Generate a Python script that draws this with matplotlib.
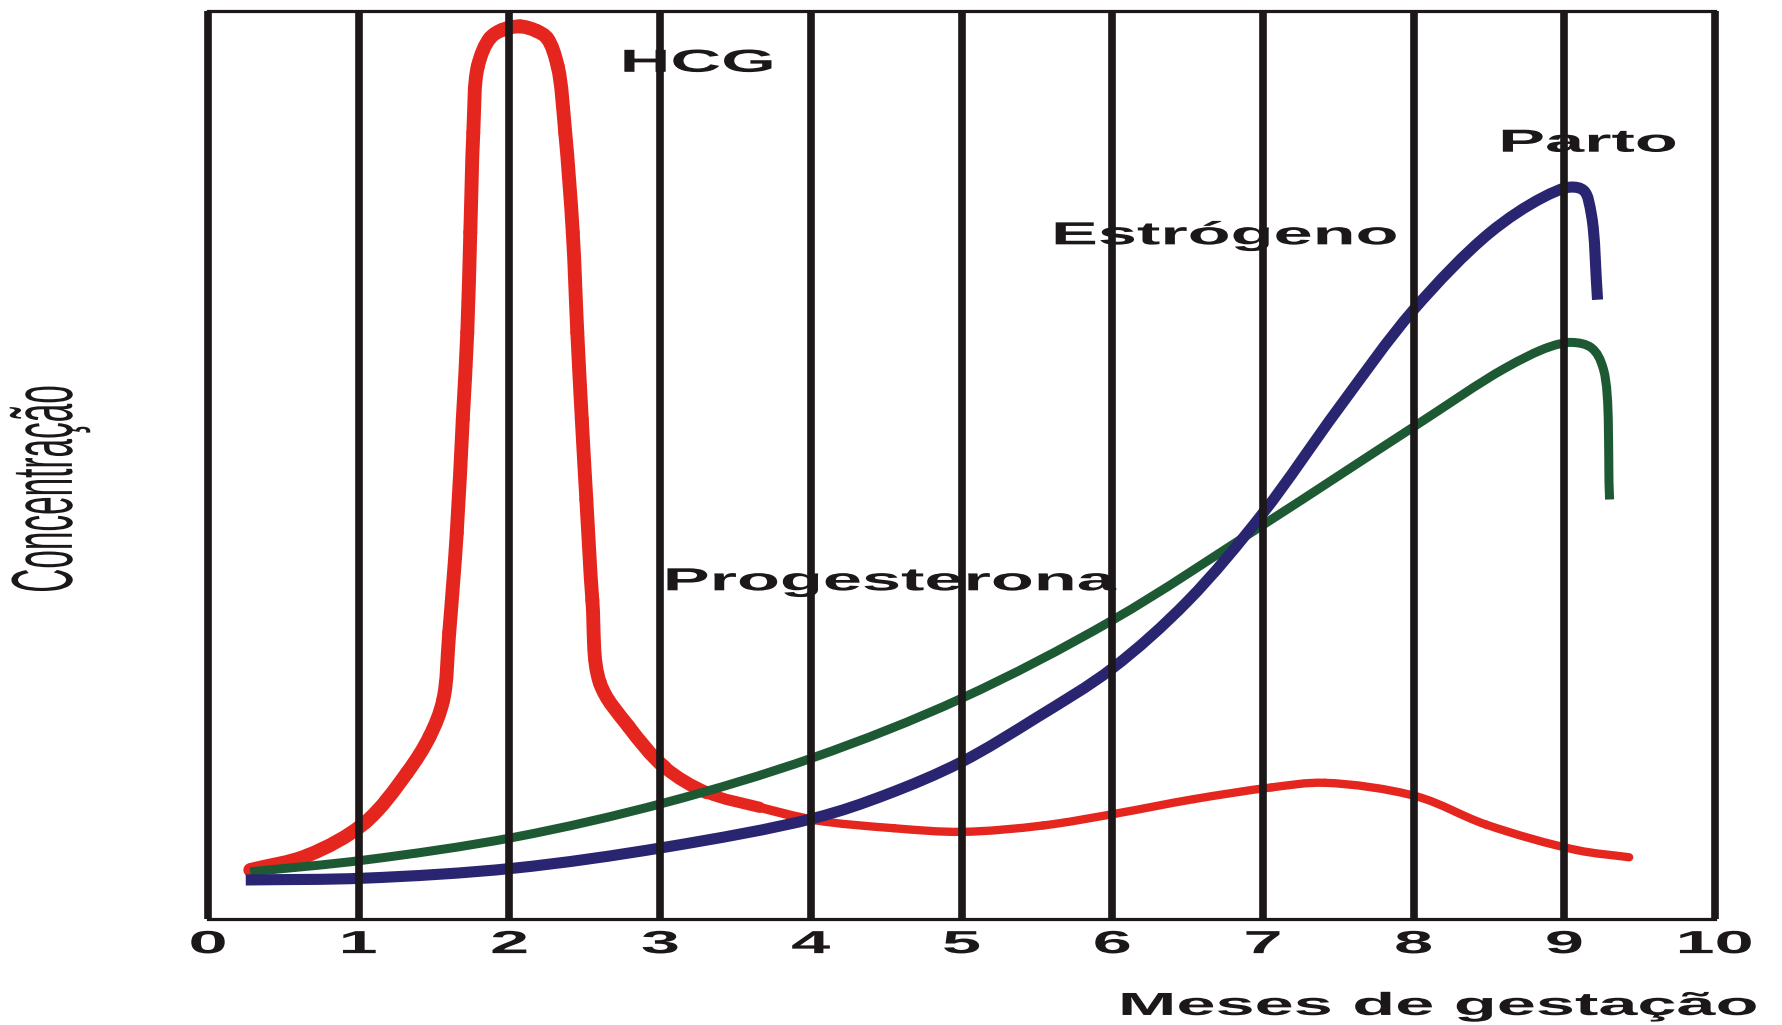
import matplotlib
matplotlib.use('Agg')
import matplotlib.pyplot as plt
import matplotlib.patheffects as pe
from matplotlib.transforms import Affine2D
from matplotlib.path import Path
from matplotlib.patches import PathPatch
import numpy as np

# meses de gestação (linhas verticais / rótulos do eixo x)
meses = [0, 1, 2, 3, 4, 5, 6, 7, 8, 9, 10]
rotulos_meses = ['0', '1', '2', '3', '4', '5', '6', '7', '8', '9', '10']

# concentração relativa (0 = eixo, 100 = topo do quadro)
hcg_x = [0.28, 0.66, 1.04, 1.32, 1.47, 1.56, 1.60, 1.65, 1.69, 1.72, 1.74, 1.76,
         1.79, 1.87, 1.95, 2.07, 2.18, 2.25, 2.32, 2.37, 2.42, 2.45, 2.48, 2.51,
         2.55, 2.60, 2.79, 3.03, 3.31, 3.66, 4.02, 4.55, 5.00, 5.54, 6.02, 6.54,
         7.06, 7.41, 8.02, 8.48, 9.08, 9.43]
hcg_y = [5.4, 7.0, 10.6, 16.1, 20.1, 24.1, 31.5, 42.5, 55.0, 64.6, 75.6, 86.6,
         93.9, 97.0, 97.9, 98.3, 97.8, 97.0, 93.9, 86.6, 75.6, 64.6, 55.0, 46.2,
         35.1, 26.0, 21.2, 16.7, 13.9, 12.3, 10.9, 10.0, 9.6, 10.3, 11.6, 13.2,
         14.5, 15.0, 13.5, 10.4, 7.6, 6.8]

prog_x = [0.28, 1.04, 2.03, 3.03, 4.02, 5.00, 6.00, 7.00, 8.00, 8.60, 8.90,
          9.05, 9.18, 9.26, 9.30]
prog_y = [5.2, 6.5, 9.0, 12.8, 17.8, 24.3, 32.9, 43.4, 54.2, 60.6, 63.0,
          63.5, 62.9, 60.5, 46.2]

estr_x = [0.25, 1.04, 2.03, 3.03, 4.02, 4.50, 5.00, 5.50, 6.00, 6.50, 7.00,
          7.50, 8.00, 8.50, 8.85, 9.04, 9.13, 9.18, 9.22]
estr_y = [4.3, 4.5, 5.6, 7.9, 11.1, 13.7, 17.3, 22.2, 27.6, 35.0, 44.7,
          56.2, 67.1, 75.5, 79.4, 80.6, 80.2, 77.5, 68.2]

preto = '#1c1718'
vermelho = '#e5261e'
azul = '#2a2570'
verde = '#1d5a34'


# o original é uma digitalização esticada na horizontal: o texto sai largo
class Esticar(pe.AbstractPathEffect):
    def __init__(self, sx=1.0, sy=1.0):
        super().__init__()
        self.sx = sx
        self.sy = sy

    def draw_path(self, renderer, gc, tpath, affine, rgbFace=None):
        ext = tpath.get_extents()
        cx = (ext.x0 + ext.x1) / 2
        cy = (ext.y0 + ext.y1) / 2
        t = Affine2D().translate(-cx, -cy).scale(self.sx, self.sy).translate(cx, cy)
        renderer.draw_path(gc, tpath, t + affine, rgbFace)


# curva suave (Catmull-Rom centrípeta -> Bézier) passando pelos pontos lidos
def trechos_bezier(xs, ys, ex=150.7, ey=9.08):
    p = np.column_stack([np.asarray(xs) * ex, np.asarray(ys) * ey])
    p = np.vstack([2 * p[0] - p[1], p, 2 * p[-1] - p[-2]])
    trechos = []
    for i in range(1, len(p) - 2):
        p0, p1, p2, p3 = p[i - 1], p[i], p[i + 1], p[i + 2]
        d1 = max(np.hypot(*(p1 - p0)), 1e-6) ** 0.5
        d2 = max(np.hypot(*(p2 - p1)), 1e-6) ** 0.5
        d3 = max(np.hypot(*(p3 - p2)), 1e-6) ** 0.5
        b1 = (d1**2 * p2 - d2**2 * p0 + (2 * d1**2 + 3 * d1 * d2 + d2**2) * p1) / (3 * d1 * (d1 + d2))
        b2 = (d3**2 * p1 - d2**2 * p3 + (2 * d3**2 + 3 * d3 * d2 + d2**2) * p2) / (3 * d3 * (d3 + d2))
        trechos.append(np.array([p1, b1, b2, p2]) / [ex, ey])
    return trechos


def caminho(trechos):
    verts = [trechos[0][0]]
    for t in trechos:
        verts.extend(t[1:])
    codes = [Path.MOVETO] + [Path.CURVE4] * (3 * len(trechos))
    return Path(verts, codes)


plt.rcParams['font.family'] = ['Liberation Sans', 'DejaVu Sans']

fig = plt.figure(figsize=(17.83, 10.25), dpi=100)
ax = fig.add_axes([0.1167, 0.1034, 0.8452, 0.8859])
ax.set_xlim(0, 10)
ax.set_ylim(0, 100)

# HCG: traço grosso no pico, mais fino depois
trechos = trechos_bezier(hcg_x, hcg_y)
for t in trechos:
    meio = (t[0][0] + t[3][0]) / 2
    lw = np.interp(meio, [3.0, 4.0], [10.0, 6.0])
    ax.add_patch(PathPatch(caminho([t]), fill=False, edgecolor=vermelho, lw=lw,
                           capstyle='round', joinstyle='round', zorder=2))

ax.add_patch(PathPatch(caminho(trechos_bezier(prog_x, prog_y)), fill=False,
                       edgecolor=verde, lw=6.5, joinstyle='round',
                       capstyle='butt', zorder=2))
ax.add_patch(PathPatch(caminho(trechos_bezier(estr_x, estr_y)), fill=False,
                       edgecolor=azul, lw=8, joinstyle='round',
                       capstyle='butt', zorder=2.1))

# linhas verticais por cima das curvas
ax.vlines(meses, 0, 100, colors=preto, linewidth=5.5, zorder=3, clip_on=False)

for lado in ['left', 'right']:
    ax.spines[lado].set_visible(False)
for lado in ['top', 'bottom']:
    ax.spines[lado].set_linewidth(2.3)
    ax.spines[lado].set_color(preto)

ax.set_yticks([])
ax.set_xticks(meses)
ax.set_xticklabels(rotulos_meses, fontsize=23, fontweight='bold', color=preto)
ax.tick_params(axis='x', length=0, pad=8)
for lbl in ax.get_xticklabels():
    lbl.set_path_effects([Esticar(2.2)])

estilo = dict(fontsize=23, fontweight='bold', color=preto, ha='center',
              va='baseline', zorder=1.5)
ax.text(3.25, 93.3, 'HCG', path_effects=[Esticar(2.2)], **estilo)
ax.text(9.16, 84.5, 'Parto', path_effects=[Esticar(2.2)], **estilo)
ax.text(6.75, 74.3, 'Estrógeno', path_effects=[Esticar(2.2)], **estilo)
ax.text(4.53, 36.2, 'Progesterona', path_effects=[Esticar(2.2)], **estilo)

fig.text(0.807, 0.0098, 'Meses de gestação', fontsize=23, fontweight='bold',
         color=preto, ha='center', va='baseline', path_effects=[Esticar(2.2)])
fig.text(0.028, 0.523, 'Concentração', fontsize=24, color=preto,
         rotation=90, ha='center', va='center', path_effects=[Esticar(1.0, 2.6)])

fig.savefig('out.png', dpi=100, facecolor='white')
